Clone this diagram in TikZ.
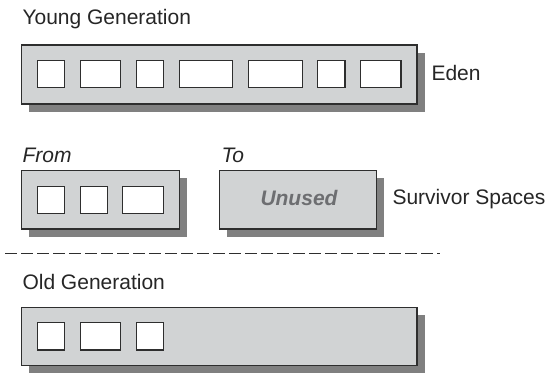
\documentclass[tikz,border=0pt]{standalone}
\usepackage{fontspec}
\setmainfont{Liberation Sans}
\definecolor{regfill}{HTML}{D1D3D4}
\definecolor{shadowgrey}{HTML}{808080}
\definecolor{edgegray}{HTML}{2E2E2E}
\definecolor{unusedgray}{HTML}{6D6E71}
\begin{document}
\begin{tikzpicture}[x=1pt,y=1pt,
  region/.style={draw=edgegray, line width=1.3pt, fill=regfill, anchor=north west,
    inner sep=0pt, outer sep=0pt},
  shadowfill/.style={fill=shadowgrey},
  cell/.style={draw=edgegray, line width=1.3pt, fill=white, anchor=north west,
    inner sep=0pt, outer sep=0pt},
  lbl/.style={anchor=base west, inner sep=0pt, outer sep=0pt,
    font=\fontsize{21}{25}\selectfont, text=black!85},
  dashline/.style={draw=edgegray, line width=1.3pt, dash pattern=on 11.7pt off 4.3pt}]
\useasboundingbox (0,0) rectangle (548,374);

% drop shadows
\fill[shadowfill] (29.3,262.4) rectangle (424.6,321.4);
\fill[shadowfill] (29.3,137.4) rectangle (186.9,195.7);
\fill[shadowfill] (226.8,137.4) rectangle (384.4,195.7);
\fill[shadowfill] (29.3,0.7) rectangle (424.6,59.1);

% Young generation / Eden
\node[lbl] (young) at (22.5,349) {Young Generation};
\node[region, minimum width=395.3pt, minimum height=59pt] (eden) at (21.7,329) {};
\node[cell, minimum width=26.9pt, minimum height=27pt] (e1) at (37.4,313.3) {};
\node[cell, minimum width=40.2pt, minimum height=27pt] (e2) at (80.4,313.3) {};
\node[cell, minimum width=26.9pt, minimum height=27pt] (e3) at (136.3,313.3) {};
\node[cell, minimum width=53.5pt, minimum height=27pt] (e4) at (179.3,313.3) {};
\node[cell, minimum width=53.8pt, minimum height=27pt] (e5) at (248.5,313.3) {};
\node[cell, minimum width=27.3pt, minimum height=27pt] (e6) at (317.7,313.3) {};
\node[cell, minimum width=40.2pt, minimum height=27pt] (e7) at (360.7,313.3) {};
\node[lbl] (edenlbl) at (431.5,293) {Eden};

% Survivor spaces
\node[lbl, font=\fontsize{21}{25}\selectfont\itshape] (from) at (22.5,211.3) {From};
\node[lbl, font=\fontsize{21}{25}\selectfont\itshape] (to) at (221.5,211.3) {To};
\node[region, minimum width=157.6pt, minimum height=58.3pt] (fromsp) at (21.7,203.3) {};
\node[cell, minimum width=26.9pt, minimum height=26.6pt] (f1) at (37.4,187.3) {};
\node[cell, minimum width=26.9pt, minimum height=26.6pt] (f2) at (80.4,187.3) {};
\node[cell, minimum width=40.9pt, minimum height=26.6pt] (f3) at (122.3,187.3) {};
\node[region, minimum width=157.6pt, minimum height=58.3pt] (tosp) at (219.2,203.3) {};
\node[anchor=base, inner sep=0pt, font=\fontsize{21}{25}\selectfont\bfseries\itshape,
  text=unusedgray] (unused) at (299,168) {Unused};
\node[lbl] (survivor) at (392.5,169) {Survivor Spaces};

% separator
\coordinate (dl) at (5,120.7);
\coordinate (dr) at (440,120.7);
\draw[dashline] (dl) -- (dr);

% Old generation
\node[lbl] (old) at (22.5,84) {Old Generation};
\node[region, minimum width=395.3pt, minimum height=58.4pt] (oldsp) at (21.7,66.7) {};
\node[cell, minimum width=26.9pt, minimum height=27.3pt] (o1) at (37.4,51.3) {};
\node[cell, minimum width=40.2pt, minimum height=27.3pt] (o2) at (80.4,51.3) {};
\node[cell, minimum width=26.9pt, minimum height=27.3pt] (o3) at (136.3,51.3) {};
\end{tikzpicture}
\end{document}
